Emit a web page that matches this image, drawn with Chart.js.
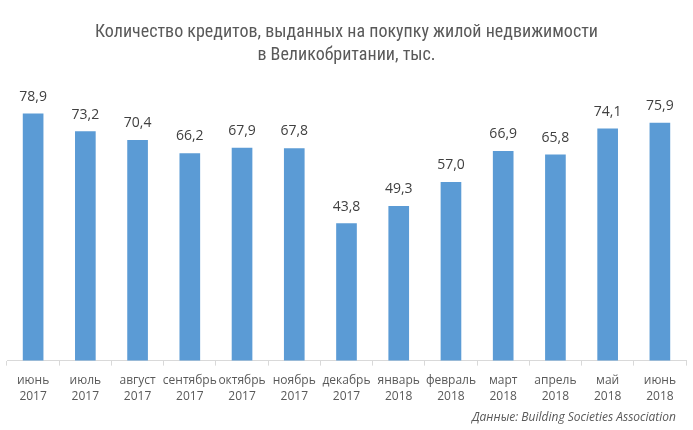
<!DOCTYPE html>
<html>
<head>
<meta charset="utf-8">
<script src="https://cdn.jsdelivr.net/npm/chart.js@4/dist/chart.umd.min.js"></script>
<style>
  html, body { margin: 0; padding: 0; background: #fff; }
  #wrap { width: 693px; height: 430px; position: relative; }
</style>
</head>
<body>
<div id="wrap"><canvas id="c"></canvas></div>
<script>
// Данные графика
const months = ['июнь', 'июль', 'август', 'сентябрь', 'октябрь', 'ноябрь', 'декабрь',
  'январь', 'февраль', 'март', 'апрель', 'май', 'июнь'];
const years = ['2017', '2017', '2017', '2017', '2017', '2017', '2017',
  '2018', '2018', '2018', '2018', '2018', '2018'];
const loans = [78.9, 73.2, 70.4, 66.2, 67.9, 67.8, 43.8, 49.3, 57.0, 66.9, 65.8, 74.1, 75.9];

const titleLines = ['Количество кредитов, выданных на покупку жилой недвижимости', 'в Великобритании, тыс.'];
const sourceText = 'Данные: Building Societies Association';

const GREY = '#595959';
const narrow = "'Liberation Sans Narrow', 'Roboto Condensed', 'Open Sans', sans-serif";

// Подписи значений, заголовок и источник рисуем сами
const decorations = {
  id: 'decorations',
  afterDatasetsDraw(chart) {
    const ctx = chart.ctx;
    const meta = chart.getDatasetMeta(0);
    ctx.save();
    ctx.fillStyle = '#404040';
    ctx.font = "14px 'Open Sans', sans-serif";
    ctx.textAlign = 'center';
    ctx.textBaseline = 'middle';
    meta.data.forEach((bar, i) => {
      ctx.fillText(loans[i].toFixed(1).replace('.', ','), bar.x, bar.y - 17);
    });

    ctx.fillStyle = GREY;
    ctx.font = '18px ' + narrow;
    ctx.fillText(titleLines[0], chart.width / 2, 32);
    ctx.fillText(titleLines[1], chart.width / 2, 55);

    ctx.font = "italic 12px 'Open Sans', sans-serif";
    ctx.textAlign = 'right';
    ctx.fillText(sourceText, 676, 418);
    ctx.restore();
  }
};

new Chart(document.getElementById('c'), {
  type: 'bar',
  data: {
    labels: months.map((m, i) => [m, years[i]]),
    datasets: [{
      data: loans,
      backgroundColor: '#5b9bd5',
      barThickness: 20
    }]
  },
  options: {
    responsive: true,
    maintainAspectRatio: false,
    animation: false,
    layout: { padding: { top: 79, left: 7, right: 7, bottom: 18 } },
    plugins: {
      legend: { display: false },
      tooltip: { enabled: false }
    },
    scales: {
      x: {
        grid: {
          drawOnChartArea: false,
          tickLength: 5,
          color: '#d9d9d9',
          offset: true
        },
        border: { color: '#d9d9d9' },
        ticks: {
          color: GREY,
          font: { family: "'Open Sans', sans-serif", size: 12, lineHeight: 1.35 },
          padding: 7,
          maxRotation: 0,
          autoSkip: false
        }
      },
      y: {
        display: false,
        min: 0,
        max: 90
      }
    }
  },
  plugins: [decorations]
});
</script>
</body>
</html>
